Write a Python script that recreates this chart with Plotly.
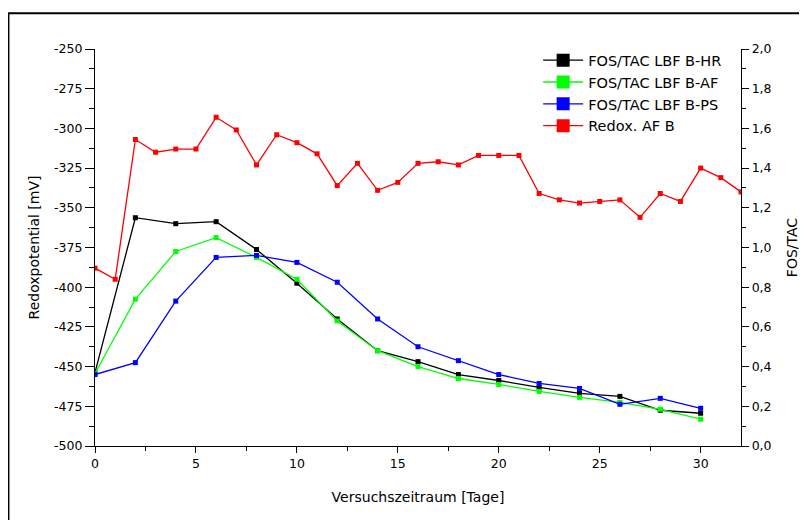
import plotly.graph_objects as go

# ---- data ----
days_redox = list(range(0, 33))
redox_af_b = [-388, -395, -307, -315, -313, -313, -293, -301, -323, -304, -309, -316,
              -336, -322, -339, -334, -322, -321, -323, -317, -317, -317, -341, -345,
              -347, -346, -345, -356, -341, -346, -325, -331, -340]

days_fos = [0, 2, 4, 6, 8, 10, 12, 14, 16, 18, 20, 22, 24, 26, 28, 30]
fos_hr = [0.37, 1.15, 1.12, 1.13, 0.99, 0.82, 0.64, 0.48, 0.425, 0.36, 0.33, 0.295, 0.265, 0.25, 0.18, 0.165]
fos_af = [0.365, 0.74, 0.98, 1.05, 0.95, 0.84, 0.63, 0.48, 0.40, 0.34, 0.31, 0.275, 0.245, 0.22, 0.185, 0.135]
fos_ps = [0.36, 0.42, 0.73, 0.95, 0.96, 0.925, 0.825, 0.64, 0.50, 0.43, 0.36, 0.315, 0.29, 0.21, 0.24, 0.19]

series_names = ["FOS/TAC LBF B-HR", "FOS/TAC LBF B-AF", "FOS/TAC LBF B-PS", "Redox. AF B"]
series_colors = ["#000000", "#00ff00", "#0000ff", "#ff0000"]

left_tickvals = [-250, -275, -300, -325, -350, -375, -400, -425, -450, -475, -500]
left_ticktext = [str(v) for v in left_tickvals]

x_title = "Versuchszeitraum [Tage]"
y_title = "Redoxpotential [mV]"
y2_title = "FOS/TAC"

FONT = "DejaVu Sans"

fig = go.Figure()

fos_series = [fos_hr, fos_af, fos_ps]
for vals, name, col in zip(fos_series, series_names[:3], series_colors[:3]):
    fig.add_trace(go.Scatter(x=days_fos, y=vals, name=name, yaxis="y2", mode="lines+markers",
                             line=dict(color=col, width=1.3),
                             marker=dict(symbol="square", size=5, color=col),
                             showlegend=False))
fig.add_trace(go.Scatter(x=days_redox, y=redox_af_b, name=series_names[3], mode="lines+markers",
                         line=dict(color=series_colors[3], width=1.3),
                         marker=dict(symbol="square", size=5, color=series_colors[3]),
                         showlegend=False))

# legend entries with large symbols
for name, col in zip(series_names, series_colors):
    fig.add_trace(go.Scatter(x=[None], y=[None], name=name, mode="lines+markers",
                             line=dict(color=col, width=1.3),
                             marker=dict(symbol="square", size=13, color=col),
                             showlegend=True))

axis_common = dict(showgrid=False, zeroline=False, showline=True, linecolor="black",
                   linewidth=1.3, ticks="outside", tickcolor="black", tickwidth=1.3,
                   automargin=False,
                   tickfont=dict(family=FONT, size=12.5, color="black"),
                   title_font=dict(family=FONT, size=14, color="black"))

fig.update_layout(
    width=799, height=512,
    margin=dict(l=87, r=66, t=41, b=74),
    paper_bgcolor="white", plot_bgcolor="white",
    separators=",.",
    font=dict(family=FONT, color="black"),
    xaxis=dict(range=[0, 32], tickvals=[0, 5, 10, 15, 20, 25, 30], ticklen=6,
               minor=dict(dtick=2.5, tick0=0, ticklen=4, tickcolor="black", ticks="outside"),
               title=dict(text=x_title, standoff=22), **axis_common),
    yaxis=dict(range=[-500, -250], tickvals=left_tickvals, ticktext=left_ticktext, ticklen=9,
               minor=dict(dtick=12.5, tick0=-500, ticklen=5, tickcolor="black", ticks="outside"),
               title=dict(text=y_title, standoff=11), **axis_common),
    yaxis2=dict(range=[0, 2], overlaying="y", side="right", anchor="x", dtick=0.2,
                tickformat=".1f", ticklen=7,
                minor=dict(dtick=0.1, tick0=0, ticklen=4, tickcolor="black", ticks="outside"),
                title=dict(text=y2_title, standoff=16), **axis_common),
    legend=dict(x=0.686, y=1.012, xanchor="left", yanchor="top", bgcolor="rgba(0,0,0,0)",
                itemwidth=40,
                font=dict(family=FONT, size=14.5, color="black"), tracegroupgap=0),
    shapes=[dict(type="rect", xref="paper", yref="paper", x0=-0.134, x1=1.2, y0=-0.3, y1=1.09,
                 line=dict(color="black", width=2), fillcolor="rgba(0,0,0,0)", layer="below")],
)

fig.write_html("out.html",
               post_script="document.documentElement.style.overflow='hidden';"
                           "document.body.style.overflow='hidden';")
